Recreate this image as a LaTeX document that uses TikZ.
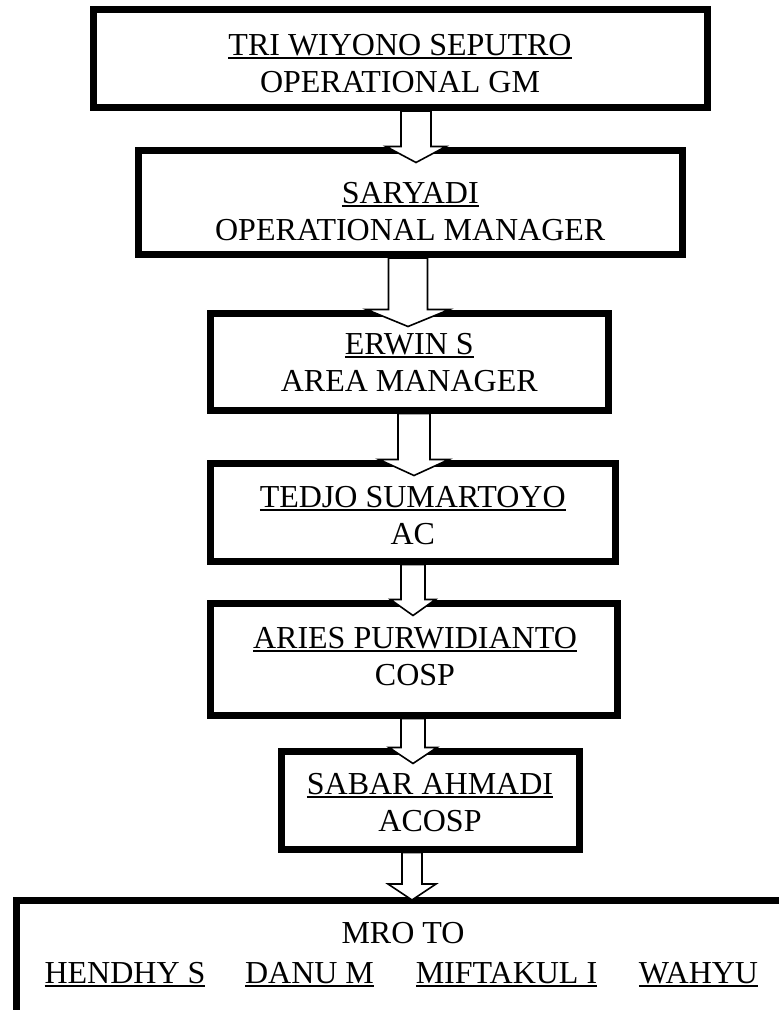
\documentclass[tikz,border=0pt]{standalone}
\usepackage{fontspec}
\setmainfont{Liberation Serif}
\usetikzlibrary{calc}
\newsavebox\ulbox
\newcommand\myul[1]{\sbox\ulbox{#1}\rlap{\rule[-3.8pt]{\wd\ulbox}{1.7pt}}\usebox\ulbox}
% #1 source node, #2 target node, #3 x centre, #4 shaft half width,
% #5 head half width, #6 head length, #7 head base offset below target north
\newcommand\blockarrow[7]{%
  \filldraw[arrowline] let \p1=(#1.south), \p2=(#2.north) in
    ({(#3-#4)*1pt},\y1) -- ({(#3-#4)*1pt},{\y2-(#7)*1pt})
    -- ({(#3-#5)*1pt},{\y2-(#7)*1pt}) -- ({#3*1pt},{\y2-(#7+#6)*1pt})
    -- ({(#3+#5)*1pt},{\y2-(#7)*1pt}) -- ({(#3+#4)*1pt},{\y2-(#7)*1pt})
    -- ({(#3+#4)*1pt},\y1) -- cycle;}
\tikzset{
  box/.style={draw=black, line width=7pt, fill=white, inner sep=0pt, outer sep=3.5pt},
  txt/.style={anchor=base, inner sep=0pt, font=\fontsize{32}{37}\selectfont},
  arrowline/.style={draw=black, fill=white, line width=1.6pt, line join=miter}
}
\begin{document}
\begin{tikzpicture}[x=1pt, y=-1pt]
\useasboundingbox (0,0) rectangle (779,1010);
\fill[white] (0,0) rectangle (779,1010);
\clip (0,0) rectangle (779,1010);

% boxes
\node[box, minimum width=614, minimum height=98] (b1) at (400,58.5) {};
\node[box, minimum width=543.5, minimum height=104.5] (b2) at (410.25,202.25) {};
\node[box, minimum width=397.5, minimum height=97] (b3) at (409.25,361.5) {};
\node[box, minimum width=404.5, minimum height=98] (b4) at (412.75,512) {};
\node[box, minimum width=406.5, minimum height=112] (b5) at (413.75,659) {};
\node[box, minimum width=298, minimum height=98] (b6) at (430,800) {};
\node[box, minimum width=774, minimum height=120] (b7) at (403,960) {};

% arrows
\blockarrow{b1}{b2}{416}{15}{30}{16}{0}
\blockarrow{b2}{b3}{408}{19.5}{41.5}{17}{0}
\blockarrow{b3}{b4}{414}{16}{35}{16}{0}
\blockarrow{b4}{b5}{413}{12}{22.5}{16}{0}
\blockarrow{b5}{b6}{413}{12}{24}{16}{0}
\blockarrow{b6}{b7}{412}{10}{24}{16}{-12.5}

% texts
\node[txt] (t1a) at (400,55) {\myul{TRI WIYONO SEPUTRO}};
\node[txt] (t1b) at (400,92) {OPERATIONAL GM};
\node[txt] (t2a) at (410.25,203) {\myul{SARYADI}};
\node[txt] (t2b) at (410.25,240) {OPERATIONAL MANAGER};
\node[txt] (t3a) at (409.25,354) {\myul{ERWIN S}};
\node[txt] (t3b) at (409.25,391) {AREA MANAGER};
\node[txt] (t4a) at (412.75,507) {\myul{TEDJO SUMARTOYO}};
\node[txt] (t4b) at (412.75,544) {AC};
\node[txt] (t5a) at (415,648) {\myul{ARIES PURWIDIANTO}};
\node[txt] (t5b) at (415,685) {COSP};
\node[txt] (t6a) at (430,794) {\myul{SABAR AHMADI}};
\node[txt] (t6b) at (430,831) {ACOSP};
\node[txt] (t7) at (403,943) {MRO TO};
\node[txt] (n1) at (125,983) {\myul{HENDHY S}};
\node[txt] (n2) at (309.5,983) {\myul{DANU M}};
\node[txt] (n3) at (506.5,983) {\myul{MIFTAKUL I}};
\node[txt] (n4) at (698.5,983) {\myul{WAHYU}};
\end{tikzpicture}
\end{document}
